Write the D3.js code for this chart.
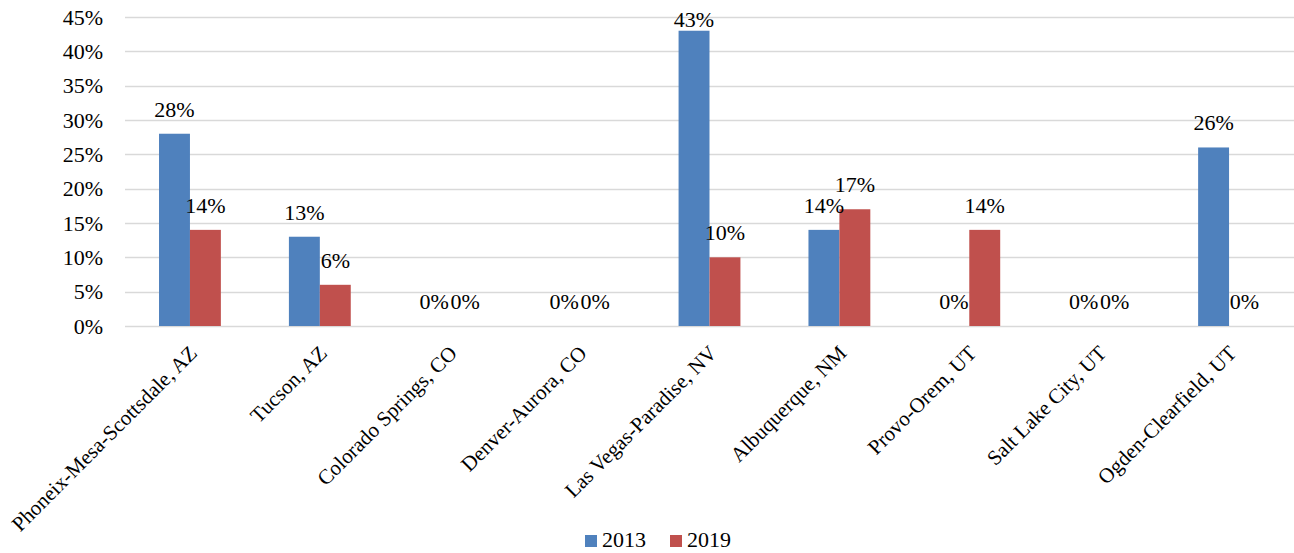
<!DOCTYPE html>
<html>
<head>
<meta charset="utf-8">
<script src="https://cdn.jsdelivr.net/npm/d3@7"></script>
<style>
  body { margin: 0; background: #fff; }
</style>
</head>
<body>
<div id="chart"></div>
<script>
// Chart data
const categories = [
    "Phoneix-Mesa-Scottsdale, AZ", "Tucson, AZ", "Colorado Springs, CO",
    "Denver-Aurora, CO", "Las Vegas-Paradise, NV", "Albuquerque, NM",
    "Provo-Orem, UT", "Salt Lake City, UT", "Ogden-Clearfield, UT"
];
const seriesNames = ["2013", "2019"];
const values2013 = [0.28, 0.13, 0, 0, 0.43, 0.14, 0, 0, 0.26];
const values2019 = [0.14, 0.06, 0, 0, 0.10, 0.17, 0.14, 0, 0];
const yTicks = [0, 0.05, 0.10, 0.15, 0.20, 0.25, 0.30, 0.35, 0.40, 0.45];

const colors = ["#4f81bd", "#c0504d"];
const serif = "'Liberation Serif', 'Times New Roman', serif";

// Flatten into rows for drawing
const rows = [];
categories.forEach((c, i) => {
    rows.push({ cat: c, series: "2013", value: values2013[i] });
    rows.push({ cat: c, series: "2019", value: values2019[i] });
});

const totalWidth = 1294, totalHeight = 553;
const margin = { top: 17, right: 0, bottom: 227, left: 125 };
const width = totalWidth - margin.left - margin.right;
const height = totalHeight - margin.top - margin.bottom;

const svg = d3.select("#chart").append("svg")
    .attr("width", totalWidth)
    .attr("height", totalHeight)
    .append("g")
    .attr("transform", `translate(${margin.left},${margin.top})`);

// Scales
const x0 = d3.scaleBand()
    .domain(categories)
    .range([0, width])
    .padding(0);

const x1 = d3.scaleBand()
    .domain(seriesNames)
    .range([0, x0.bandwidth()])
    .paddingInner(0)
    .paddingOuter(1.1);

const y = d3.scaleLinear()
    .domain([0, 0.45])
    .range([height, 0]);

const color = d3.scaleOrdinal().domain(seriesNames).range(colors);

// Gridlines
svg.append("g")
    .selectAll("line")
    .data(yTicks)
    .enter()
    .append("line")
    .attr("x1", 0)
    .attr("x2", width)
    .attr("y1", d => Math.round(y(d)) + 0.5)
    .attr("y2", d => Math.round(y(d)) + 0.5)
    .attr("stroke", "#d9d9d9")
    .attr("stroke-width", 1.5);

// Y axis labels
const yAxis = svg.append("g")
    .call(d3.axisLeft(y).tickValues(yTicks).tickFormat(d3.format(".0%")).tickSize(0).tickPadding(22));
yAxis.select(".domain").remove();
yAxis.attr("font-family", null).attr("font-size", null);
yAxis.selectAll("text")
    .style("font-family", serif)
    .style("font-size", "22px")
    .attr("fill", "#000");

// Bars
svg.append("g")
    .selectAll("rect")
    .data(rows.filter(d => d.value > 0))
    .enter()
    .append("rect")
    .attr("x", d => x0(d.cat) + x1(d.series))
    .attr("y", d => y(d.value))
    .attr("width", x1.bandwidth())
    .attr("height", d => height - y(d.value))
    .attr("fill", d => color(d.series));

// Value labels (Excel pushes the top one down inside the plot)
svg.append("g")
    .selectAll("text")
    .data(rows)
    .enter()
    .append("text")
    .attr("x", d => x0(d.cat) + x1(d.series) + x1.bandwidth() / 2)
    .attr("y", d => Math.max(y(d.value) - 17, 10))
    .attr("text-anchor", "middle")
    .style("font-family", serif)
    .style("font-size", "22px")
    .text(d => Math.round(d.value * 100) + "%");

// X axis category labels
svg.append("g")
    .selectAll("text")
    .data(categories)
    .enter()
    .append("text")
    .attr("transform", d => `translate(${x0(d) + x0.bandwidth() / 2 - 2},${height + 18}) rotate(-45)`)
    .attr("text-anchor", "end")
    .attr("dy", "0.7em")
    .style("font-family", serif)
    .style("font-size", "21px")
    .text(d => d);

// Legend
const legend = svg.append("g")
    .attr("transform", `translate(${585 - margin.left},${535 - margin.top})`);

seriesNames.forEach((s, i) => {
    legend.append("rect")
        .attr("x", i * 85)
        .attr("y", 0)
        .attr("width", 12)
        .attr("height", 12)
        .attr("fill", color(s));
    legend.append("text")
        .attr("x", i * 85 + 17)
        .attr("y", 12)
        .style("font-family", serif)
        .style("font-size", "22px")
        .text(s);
});
</script>
</body>
</html>
